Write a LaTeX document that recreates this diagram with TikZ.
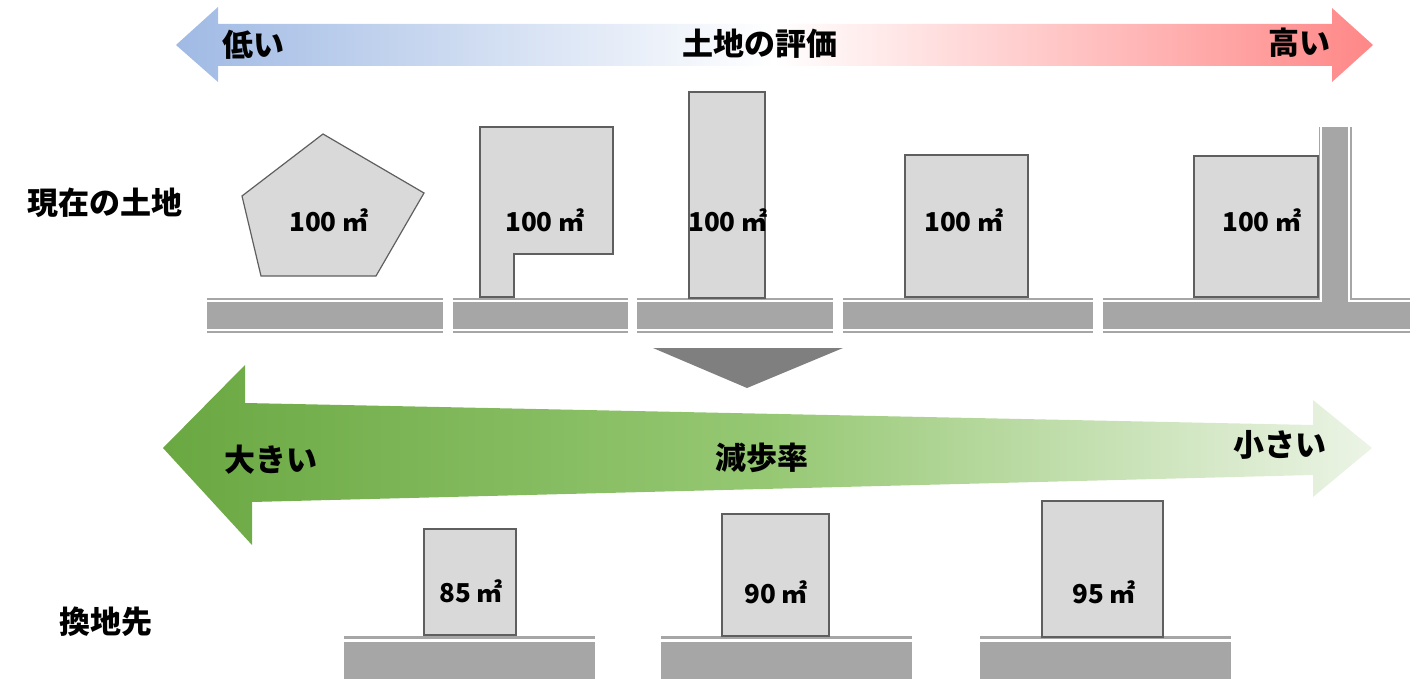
\documentclass[tikz,border=0pt]{standalone}
\usepackage{fontspec}
\setmainfont{Noto Sans CJK JP}
\definecolor{lotgray}{RGB}{217,217,217}
\definecolor{lotedge}{RGB}{95,95,95}
\definecolor{roadgray}{RGB}{166,166,166}
\definecolor{trigray}{RGB}{127,127,127}
\definecolor{blueL}{RGB}{160,186,228}
\definecolor{pinkR}{RGB}{255,135,135}
\definecolor{greenL}{RGB}{106,168,66}
\definecolor{greenM}{RGB}{150,200,115}
\definecolor{greenR}{RGB}{236,244,230}
\newcommand\roadseg[3]{%
  \fill[roadgray] (#1,#3) rectangle (#2,#3+2);
  \fill[roadgray] (#1,#3+4) rectangle (#2,#3+31);
  \fill[roadgray] (#1,#3+33) rectangle (#2,#3+35);}
\begin{document}
\begin{tikzpicture}[x=1pt,y=-1pt,
  lot/.style={fill=lotgray, draw=lotedge, line width=1.2pt},
  area/.style={font=\bfseries\fontsize{26}{30}\selectfont, inner sep=0pt},
  big/.style={font=\bfseries\fontsize{31}{35}\selectfont, inner sep=0pt}]
\useasboundingbox (0,0) rectangle (1424,679);
% top arrow
\shade[left color=blueL, right color=pinkR, middle color=white]
  (176,45) -- (218,7) -- (218,24) -- (1332,24) -- (1332,8) -- (1373,45)
  -- (1332,82) -- (1332,66) -- (218,66) -- (218,82) -- cycle;
\node[big, anchor=west] (low) at (222,45) {低い};
\node[big] (eval) at (760,44) {土地の評価};
\node[big] (high) at (1299,43) {高い};
% labels
\node[big] (now) at (105,203) {現在の土地};
\node[big] (dest) at (106,622) {換地先};
% top roads
\roadseg{207}{443}{298}
\roadseg{453}{628}{298}
\roadseg{637}{833}{298}
\roadseg{843}{1093}{298}
\fill[roadgray] (1103,298) rectangle (1320,300);
\fill[roadgray] (1350,298) rectangle (1410,300);
\fill[roadgray] (1103,302) rectangle (1410,329);
\fill[roadgray] (1103,331) rectangle (1410,333);
\fill[roadgray] (1318.5,127) rectangle (1320,300);
\fill[roadgray] (1350,127) rectangle (1351.5,300);
\fill[roadgray] (1322,127) rectangle (1348,302);
% top lots
\draw[lot] (323,134) -- (424,193) -- (376,276) -- (261,276) -- (242,196) -- cycle;
\draw[lot] (480,127) -- (613,127) -- (613,254) -- (514,254) -- (514,297) -- (480,297) -- cycle;
\draw[lot] (689,92) rectangle (765,298);
\draw[lot] (905,155) rectangle (1028,297);
\draw[lot] (1194,156) rectangle (1318,297);
\node[area] (a1) at (329,220) {100 ㎡};
\node[area] (a2) at (545,220) {100 ㎡};
\node[area] (a3) at (728,220) {100 ㎡};
\node[area] (a4) at (964,220) {100 ㎡};
\node[area] (a5) at (1262,220) {100 ㎡};
% down triangle
\fill[trigray] (653,348) -- (843,348) -- (747,388) -- cycle;
% green arrow
\shade[left color=greenL, right color=greenR, middle color=greenM]
  (163,448) -- (245,365) -- (245,403) -- (1313,425) -- (1313,400) -- (1372,448)
  -- (1313,497) -- (1313,475) -- (252,502) -- (252,545) -- cycle;
\node[big] (large) at (271,460) {大きい};
\node[big] (rate) at (762,458) {減歩率};
\node[big] (small) at (1280,445) {小さい};
% bottom roads
\fill[roadgray] (344,636) rectangle (595,639);
\fill[roadgray] (344,642) rectangle (595,679);
\fill[roadgray] (661,636) rectangle (912,639);
\fill[roadgray] (661,642) rectangle (912,679);
\fill[roadgray] (980,636) rectangle (1231,639);
\fill[roadgray] (980,642) rectangle (1231,679);
% bottom lots
\draw[lot] (424,529) rectangle (516,635);
\draw[lot] (722,514) rectangle (829,636);
\draw[lot] (1042,501) rectangle (1163,637);
\node[area] (b1) at (471,591) {85 ㎡};
\node[area] (b2) at (776,592) {90 ㎡};
\node[area] (b3) at (1104,592) {95 ㎡};
\end{tikzpicture}
\end{document}
